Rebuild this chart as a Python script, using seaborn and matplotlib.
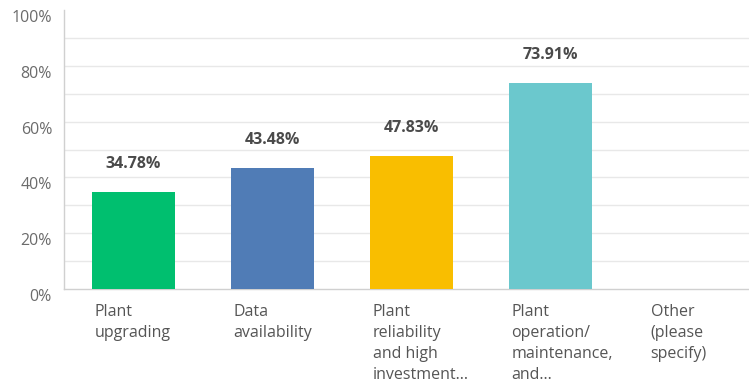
import matplotlib
matplotlib.use("Agg")
import matplotlib.pyplot as plt
import matplotlib.transforms as mtransforms
import seaborn as sns
import pandas as pd
import numpy as np

categories = ["Plant\nupgrading", "Data\navailability", "Plant\nreliability\nand high\ninvestment...",
              "Plant\noperation/\nmaintenance,\nand...", "Other\n(please\nspecify)"]
values = [34.78, 43.48, 47.83, 73.91, 0.0]
colors = ["#00BF6F", "#507CB6", "#F9BE00", "#6BC8CD", "#A0A0A0"]
yticks = [0, 20, 40, 60, 80, 100]

sns.set_theme(style="white")
plt.rcParams["font.family"] = ["Open Sans", "DejaVu Sans"]

fig = plt.figure(figsize=(7.49, 3.88), dpi=100)
W, H = 749, 388
left, right, top, bottom = 64, 749, 10, 289
ax = fig.add_axes([left / W, 1 - bottom / H, (right - left) / W, (bottom - top) / H])

df = pd.DataFrame({"cat": categories, "val": values})
sns.barplot(data=df, x="cat", y="val", hue="cat", palette=colors, legend=False,
            width=0.6, ax=ax, saturation=1, edgecolor="none", zorder=3)

ax.set_xlim(-0.5, 4.43)
ax.set_ylim(0, 100)
ax.set_yticks(np.arange(10, 100, 10))
ax.grid(axis="y", color="#e8e8e8", linewidth=1, zorder=0)
ax.set_axisbelow(True)
ax.tick_params(axis="y", which="both", length=0, labelleft=False)

# y tick labels, drawn slightly below their gridlines as in the reference
ytrans = mtransforms.blended_transform_factory(ax.transAxes, ax.transData)
offset = mtransforms.ScaledTranslation(-12 / 100, -8 / 100, fig.dpi_scale_trans)
for t in yticks:
    ax.text(0, t, f"{t}%", transform=ytrans + offset, ha="right", va="center",
            fontsize=11.5, color="#6b6b6b")

ax.set_xticks([])
ax.set_xlabel("")
ax.set_ylabel("")
for s in ["top", "right"]:
    ax.spines[s].set_visible(False)
for s in ["left", "bottom"]:
    ax.spines[s].set_color("#d0d0d0")
    ax.spines[s].set_linewidth(1)

trans = mtransforms.blended_transform_factory(ax.transData, ax.transAxes)
xoff = mtransforms.ScaledTranslation(3 / 100, 0, fig.dpi_scale_trans)
for i, (c, v) in enumerate(zip(categories, values)):
    ax.text(i - 0.3, -0.055, c, transform=trans + xoff, ha="left", va="top",
            fontsize=11.5, color="#555555", linespacing=1.4)
    if v > 0:
        ax.annotate(f"{v:.2f}%", xy=(i, v), xytext=(0, 20), textcoords="offset points",
                    ha="center", va="center", fontsize=11.5, fontweight="bold",
                    color="#4a4a4a")

fig.savefig("out.png", dpi=100)
